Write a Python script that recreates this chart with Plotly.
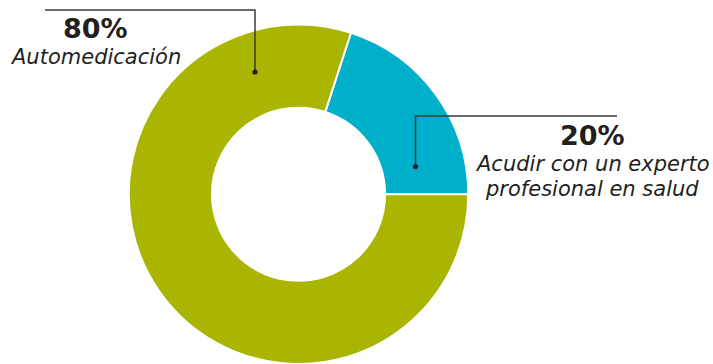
import plotly.graph_objects as go

W, H = 713, 364

# data
labels = ["Acudir con un experto profesional en salud", "Automedicación"]
values = [20, 80]
colors = ["#00AFCA", "#A9B500"]
pct_text = ["20%", "80%"]
desc_text = [["Acudir con un experto", "profesional en salud"], ["Automedicación"]]


def px_x(x):
    return x / W


def px_y(y):
    return 1 - y / H


fig = go.Figure()
fig.add_trace(go.Pie(
    labels=labels,
    values=values,
    hole=0.51,
    sort=False,
    direction="clockwise",
    rotation=18,
    marker=dict(colors=colors, line=dict(color="white", width=2)),
    textinfo="none",
    hoverinfo="label+percent",
    showlegend=False,
    domain=dict(x=[px_x(298.5 - 170), px_x(298.5 + 170)], y=[0, px_y(24.5)]),
))

ink = "#231F20"
line_col = "#3a3a3a"
shapes = []

# leader line for 80%
shapes.append(dict(type="path", xref="paper", yref="paper",
                   path=f"M {px_x(45)} {px_y(10)} L {px_x(255)} {px_y(10)} L {px_x(255)} {px_y(72)}",
                   line=dict(color=line_col, width=1.5)))
# leader line for 20%
shapes.append(dict(type="path", xref="paper", yref="paper",
                   path=f"M {px_x(617)} {px_y(116)} L {px_x(415.5)} {px_y(116)} L {px_x(415.5)} {px_y(166.5)}",
                   line=dict(color=line_col, width=1.5)))
# dots
for cx, cy in [(255, 72), (415.5, 166.5)]:
    shapes.append(dict(type="circle", xref="paper", yref="paper",
                       x0=px_x(cx - 2.6), x1=px_x(cx + 2.6),
                       y0=px_y(cy - 2.6), y1=px_y(cy + 2.6),
                       fillcolor=ink, line=dict(width=0)))

annotations = []


def add_text(txt, x, y, size, bold=False, italic=False):
    t = txt
    if bold:
        t = f"<b>{t}</b>"
    if italic:
        t = f"<i>{t}</i>"
    annotations.append(dict(text=t, x=px_x(x), y=px_y(y), xref="paper", yref="paper",
                            xanchor="center", yanchor="middle", showarrow=False,
                            font=dict(family="DejaVu Sans", size=size, color=ink)))


add_text(pct_text[1], 95, 29, 27, bold=True)
add_text(desc_text[1][0], 95, 57, 21, italic=True)
add_text(pct_text[0], 592, 135, 27, bold=True)
add_text(desc_text[0][0], 592, 164, 21, italic=True)
add_text(desc_text[0][1], 592, 189, 21, italic=True)

fig.update_layout(
    width=W, height=H,
    margin=dict(l=0, r=0, t=0, b=0),
    paper_bgcolor="white",
    plot_bgcolor="white",
    shapes=shapes,
    annotations=annotations,
)

# drop the default page margin so the chart sits at the window corner
fig.write_html("out.html", config={"displayModeBar": False},
               post_script="document.body.style.margin='0';")
